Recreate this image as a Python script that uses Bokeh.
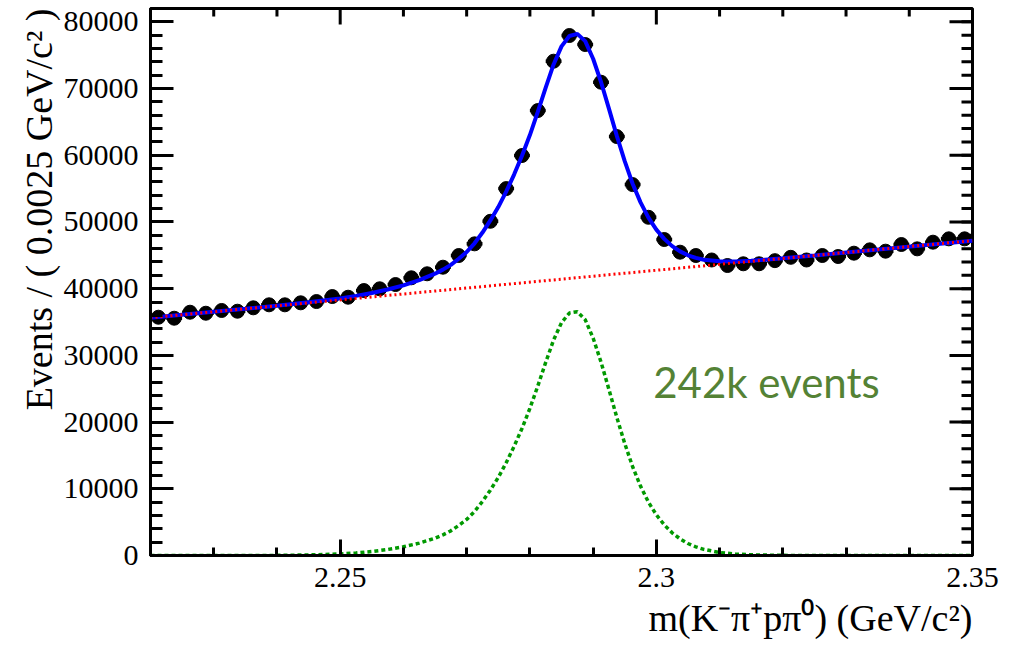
import numpy as np
from bokeh.plotting import figure
from bokeh.models import Range1d, LinearAxis, Label, FixedTicker, Title
from bokeh.embed import file_html
from bokeh.resources import INLINE

# ---------------- data ----------------
bin_centers = [2.22125, 2.22375, 2.22625, 2.22875, 2.23125, 2.23375, 2.23625, 2.23875,
               2.24125, 2.24375, 2.24625, 2.24875, 2.25125, 2.25375, 2.25625, 2.25875,
               2.26125, 2.26375, 2.26625, 2.26875, 2.27125, 2.27375, 2.27625, 2.27875,
               2.28125, 2.28375, 2.28625, 2.28875, 2.29125, 2.29375, 2.29625, 2.29875,
               2.30125, 2.30375, 2.30625, 2.30875, 2.31125, 2.31375, 2.31625, 2.31875,
               2.32125, 2.32375, 2.32625, 2.32875, 2.33125, 2.33375, 2.33625, 2.33875,
               2.34125, 2.34375, 2.34625, 2.34875]
counts = [35720, 35570, 36470, 36320, 36730, 36620, 37130, 37580,
          37580, 37880, 38070, 38820, 38720, 39720, 39980, 40620,
          41630, 42230, 43220, 44970, 46720, 50100, 55000, 59960,
          66700, 74100, 77950, 76600, 70950, 62800, 55600, 50700,
          47370, 45470, 44970, 44300, 43470, 43730, 43730, 44200,
          44700, 44300, 44970, 44820, 45320, 45820, 45620, 46620,
          45970, 46970, 47470, 47470]
bin_half_width = 0.00125

# background fit (red dotted)
bkg_x = [2.22, 2.35]
bkg_y = [35650, 47200]

# signal fit (green dashed)
sig_x = [2.220, 2.235, 2.240, 2.245, 2.250, 2.2525, 2.255, 2.2575, 2.260, 2.2625,
         2.265, 2.26625, 2.2675, 2.26875, 2.270, 2.27125, 2.2725, 2.27375, 2.275, 2.27625,
         2.2775, 2.27875, 2.280, 2.28125, 2.2825, 2.28375, 2.285, 2.28625, 2.2875, 2.28875,
         2.290, 2.29125, 2.2925, 2.29375, 2.295, 2.29625, 2.2975, 2.29875, 2.300, 2.30125,
         2.3025, 2.30375, 2.305, 2.30625, 2.3075, 2.310, 2.3125, 2.315, 2.320, 2.325, 2.350]
sig_y = [0, 0, 20, 80, 230, 380, 600, 900, 1300, 1850,
         2600, 3100, 3700, 4500, 5400, 6600, 8100, 9800, 11700, 13900,
         16350, 19050, 22050, 25400, 28950, 32300, 34900, 36350, 36550, 35350,
         32600, 29000, 24900, 20700, 16800, 13300, 10400, 8000, 6100, 4600,
         3400, 2500, 1800, 1300, 920, 450, 220, 100, 20, 0, 0]

x_major_ticks = [2.25, 2.30, 2.35]
x_tick_labels = ["2.25", "2.3", "2.35"]
x_minor_ticks = [2.22, 2.23, 2.24, 2.26, 2.27, 2.28, 2.29, 2.31, 2.32, 2.33, 2.34]
y_major_ticks = [0, 10000, 20000, 30000, 40000, 50000, 60000, 70000, 80000]
y_tick_labels = ["0", "10000", "20000", "30000", "40000", "50000", "60000", "70000", "80000"]
y_minor_ticks = list(range(0, 82001, 2000))

x_title = "m(K\u207b\u03c0\u207ap\u03c0\u2070) (GeV/c\u00b2)"
y_title = "Events / ( 0.0025 GeV/c\u00b2 )"
annotation = "242k events"

X_LO, X_HI = 2.22, 2.35
Y_LO, Y_HI = 0, 82000

# ---------------- figure ----------------
p = figure(width=1012, height=652, output_backend="svg", toolbar_location=None,
           x_range=Range1d(X_LO, X_HI), y_range=Range1d(Y_LO, Y_HI),
           x_axis_type=None, y_axis_type=None,
           min_border_left=150, min_border_right=40, min_border_top=8, min_border_bottom=97)
p.xgrid.visible = False
p.ygrid.visible = False
p.outline_line_color = "black"
p.outline_line_width = 3
p.background_fill_color = "white"
p.border_fill_color = "white"

serif = "Liberation Serif"

def make_axis(ticker, maj_in, min_in, overrides):
    ax = LinearAxis(ticker=ticker)
    ax.axis_line_width = 3
    ax.axis_line_color = "black"
    ax.major_tick_in = maj_in
    ax.major_tick_out = 0
    ax.minor_tick_in = min_in
    ax.minor_tick_out = 0
    ax.major_tick_line_width = 3
    ax.minor_tick_line_width = 3
    ax.major_tick_line_color = "black"
    ax.minor_tick_line_color = "black"
    ax.major_label_text_font = serif
    ax.major_label_text_font_size = "30px"
    ax.major_label_text_color = "black"
    ax.major_label_standoff = 12
    ax.major_label_overrides = overrides
    return ax

xt = FixedTicker(ticks=x_major_ticks, minor_ticks=x_minor_ticks)
yt = FixedTicker(ticks=y_major_ticks, minor_ticks=y_minor_ticks)
x_over = {t: l for t, l in zip(x_major_ticks, x_tick_labels)}
y_over = {t: l for t, l in zip(y_major_ticks, y_tick_labels)}

p.add_layout(make_axis(yt, 23, 12, y_over), "left")
p.add_layout(make_axis(xt, 16, 8, x_over), "below")

# axis titles (right/top aligned like ROOT)
p.add_layout(Title(text=y_title, align="right", text_font=serif, text_font_size="38px",
                   text_font_style="normal", text_color="black", standoff=2), "left")
p.add_layout(Title(text=x_title, align="right", text_font=serif, text_font_size="38px",
                   text_font_style="normal", text_color="black", standoff=10), "below")

# mirrored ticks on the right and top edges (dash markers clipped at the frame)
p.scatter([X_HI] * len(y_major_ticks), y_major_ticks, marker="dash", size=46,
          line_color="black", line_width=3)
p.scatter([X_HI] * len(y_minor_ticks), y_minor_ticks, marker="dash", size=22,
          line_color="black", line_width=3)
p.scatter(x_major_ticks, [Y_HI] * len(x_major_ticks), marker="dash", size=32, angle=np.pi / 2,
          line_color="black", line_width=3)
p.scatter(x_minor_ticks, [Y_HI] * len(x_minor_ticks), marker="dash", size=16, angle=np.pi / 2,
          line_color="black", line_width=3)

# data points with bin-width error bars
x0 = [c - bin_half_width for c in bin_centers]
x1 = [c + bin_half_width for c in bin_centers]
p.segment(x0=x0, x1=x1, y0=counts, y1=counts, line_color="black", line_width=3.5)
p.scatter(bin_centers, counts, size=14, fill_color="black", line_color="black")

# fits
total_y = list(np.interp(sig_x, bkg_x, bkg_y) + np.array(sig_y))
p.line(sig_x, total_y, line_color="#0000ff", line_width=4)
p.line(bkg_x, bkg_y, line_color="#ff0000", line_width=3, line_dash="2 3")
p.line(sig_x, sig_y, line_color="#009900", line_width=3.5, line_dash="4 3")

# annotation
p.add_layout(Label(x=2.2995, y=26000, text=annotation, text_font="Lato",
                   text_font_size="42px", text_color="#548235",
                   text_align="left", text_baseline="middle"))

open("out.html", "w").write(file_html(p, INLINE))
